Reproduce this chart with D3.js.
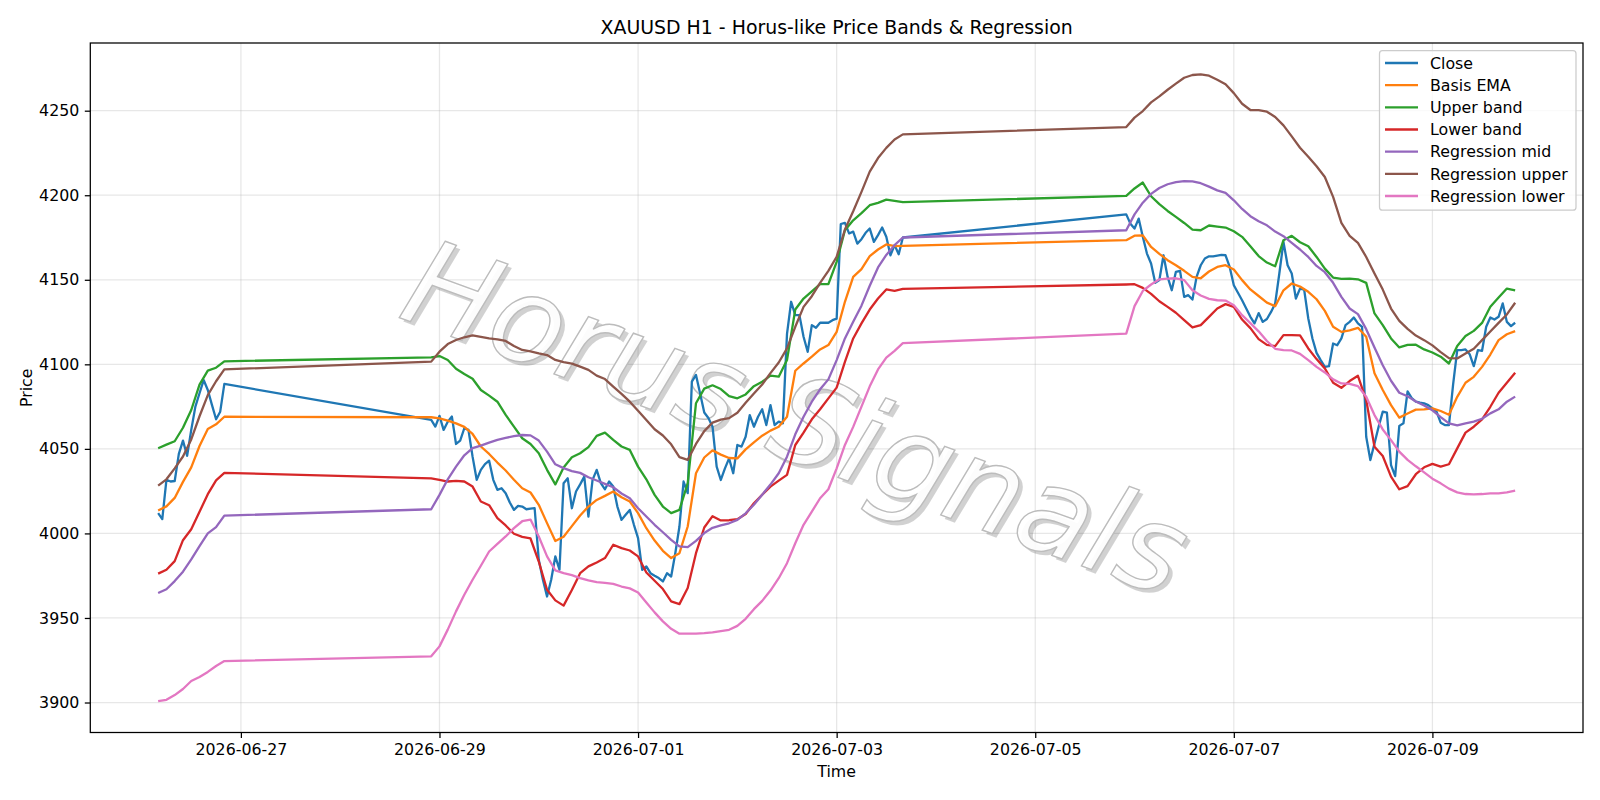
<!DOCTYPE html>
<html><head><meta charset="utf-8">
<script src="https://cdn.jsdelivr.net/npm/d3@7"></script>
<style>
body{margin:0;background:#fff;}
svg{display:block;}
text{font-family:"DejaVu Sans",sans-serif;}
</style>
</head><body>
<svg id="chart" width="1600" height="800"></svg>
<script>
// ---------------- DATA ----------------
// trading sessions (UTC, hourly bars)
const segmentStarts = ["2026-06-26T04:00:00Z", "2026-06-28T22:00:00Z", "2026-07-05T22:00:00Z"];
const segmentEnds   = ["2026-06-26T20:00:00Z", "2026-07-03T16:00:00Z", "2026-07-09T20:00:00Z"];

// hourly close
const close = [
4012,4008.5,4031.7,4030.7,4031,4047,4054.9,4045.9,4061.2,4075,4082.9,4090.7,4084.8,4076,4067.5,4072,4088.4,
4067.1,4063.2,4069.5,4061.2,4066.1,4069.1,4052.9,4054.9,4062.2,4061.2,
4045.4,4031.7,4037.6,4041,4043,4031.7,4025.8,4026.7,4023.8,4018.3,
4013.9,4016.3,4015.9,4014.3,4014.7,4014.9,3984.4,3972.6,3962.7,3972.6,
3986.4,3978.5,4029.7,4032.6,4014.9,4024.8,4029,4033.6,4010,4031.7,
4037.6,4029.7,4026.1,4030.7,4027.7,4015.9,4008,4011,4013.9,4005.1,
3997.2,3978.5,3980.5,3976.5,3975,3973.6,3971.6,3976.5,3974.5,3988.3,
4004.1,4030.7,4023.8,4089.8,4093.7,4082.8,4071.5,4068.3,4063.1,4039.5,
4031.6,4038.5,4044.4,4035.6,4052.3,4051.3,4057.2,4070,4063.1,4069,
4073.4,4064.1,4075.9,4064.1,4066.1,4065.1,4118,4137,4129.1,4129.1,
4116.3,4107.4,4123.2,4121.6,4124.6,4124.6,4124.6,4126.1,4127,4183,
4183.7,4177.4,4178.5,4171.4,4174,4177.8,4180.3,4172.4,4176.4,4180.9,
4175.4,4164.5,4170.5,4165.1,4175,
4188.7,4183.2,4180.3,4186.2,4175.4,4165.5,4159.6,4148.2,4149.8,4164.5,
4151.7,4143.8,4154.7,4155.3,4139.9,4140.9,4138.3,4151.7,4158.6,4162.6,
4163.9,4163.9,4164.3,4164.7,4164.5,4157.6,4146.8,4142.3,4137.9,4133,
4128.1,4124.2,4130.3,4125.1,4126.8,4131,4136,4153.7,4172.4,4158.6,
4153.7,4138.9,4144.8,4144.2,4127.1,4115.3,4106.8,4102.5,4098.5,4098.9,
4112.3,4111.3,4115.3,4123.2,4125.1,4127.7,4124.2,4122.2,4057.2,4043.4,
4053.2,4063.1,4072,4071.4,4040.4,4033.9,4063.6,4065.1,4084,4080,
4077.9,4077.3,4076.9,4075.9,4073.9,4072,4065.5,4064.1,4064.1,4088,
4108.4,4108.4,4108.8,4106,4098.9,4108.4,4108,4122.2,4127.7,4126.5,
4128.1,4136,4125.1,4122.6,4124.6
];

// smoothed series, read every 2 hours
const basisEma = [
4013.6,4016,4021,4030.5,4039.1,4051.7,4061.7,4064.5,4069,
4068.7,4068.1,4066.7,4065.1,4063,4058.8,4051.4,4047,4041.9,4037.2,
4031.7,4026.7,4024.2,4016.9,4006.1,3995.5,3998,4004.3,4010.6,4015.9,
4019.8,4022.2,4024.8,4021.4,4018.9,4012,4003.1,3995.8,3989.7,3985.4,
3988.3,4004.1,4035.6,4044.9,4049.1,4046.6,4044.6,4044.4,4049.7,4053.9,
4057.8,4060.8,4063.1,4069,4096.2,4100.5,4104.5,4108.8,4111.4,4119.2,
4137,4151.7,4156.3,4164,4167.9,4170.9,4169.9,4170.1,
4173.4,4176.1,4176.3,4169.4,4165.3,4161.6,4158.6,4155.3,4151.7,4150.9,
4154.9,4157.6,4158.6,4156.1,4149.8,4144.3,4140.4,4136.5,4134.4,4143.8,
4147.8,4146,4142.9,4138.5,4131.6,4122.2,4119.2,4120.1,4121.6,4116.3,
4094.7,4084.8,4075.9,4068.5,4070.9,4073.2,4073.4,4074,4072.4,4070.2,
4080.8,4089.1,4092.6,4098.5,4105.8,4114.3,4117.8,4119.6
];
const upperBand = [
4050.4,4052.5,4054.5,4062.5,4073,4088,4096.3,4098,4101.8,
4104.1,4104.9,4102.6,4097.4,4094.3,4091.5,4084.8,4081.5,4077.9,4070.1,
4063.2,4056.3,4052.9,4047.4,4037.6,4029,4039,4045,4047.4,4051,
4057.7,4059.6,4055.3,4051.4,4049.4,4039.5,4032,4022.8,4015.9,4012,
4013.9,4029.7,4077,4085.6,4087.6,4085.4,4081.2,4079.9,4082.2,4087.1,
4089.7,4093.3,4092.7,4102.5,4132.4,4138.9,4143.1,4147.4,4147.4,4160.6,
4179.3,4185.2,4189.4,4194.1,4195.5,4197.4,4196.7,4195.9,
4199.6,4204,4207.5,4199.4,4194.7,4190.7,4187.2,4183.6,4179.7,4179.3,
4182.1,4181.5,4180.9,4178.7,4175.4,4169.8,4164,4160.2,4158,4173.4,
4176,4172.2,4169.8,4163.5,4156.6,4151.3,4150.5,4150.7,4150.3,4148.2,
4130.1,4123.2,4115.3,4110,4111.5,4111.6,4108.8,4107,4104.5,4100.5,
4110.8,4116.7,4119.8,4124.5,4134,4139.5,4144.8,4143.8
];
const lowerBand = [
3976.2,3978.5,3983.6,3996,4002.5,4012.8,4023.2,4031.4,4035.8,
4032.6,4031.7,4030.7,4031.1,4030.7,4027.7,4018.9,4016.7,4009,4004.7,
3999.8,3998,3997,3983.4,3966.7,3960.4,3957.3,3966.5,3976.5,3980.5,
3982.8,3985.4,3993.3,3991.3,3989.9,3986.4,3976.9,3972,3967.1,3959.8,
3958.2,3967.7,3988.3,4003.5,4010.2,4007.7,4007.8,4008.4,4011.5,4017.8,
4022.9,4027.7,4031.2,4034.6,4052.3,4059.6,4067.5,4073.4,4079.9,4086.2,
4101.5,4115.3,4124.2,4132.4,4138.9,4144.3,4143.5,4144.6,
4147.2,4147.4,4145.2,4141.7,4137.3,4134,4130.5,4126.1,4121.8,4123.2,
4128.1,4133,4135.6,4134,4126.5,4121.4,4114.9,4111.5,4110.8,4117.3,
4117.3,4117.1,4109.4,4103.1,4097.6,4089.1,4086.1,4090.1,4093.2,4078.9,
4051.3,4045.8,4033.6,4026.1,4028,4035,4039.1,4041.1,4039.5,4040.9,
4050.3,4059.6,4063.1,4067.5,4074.9,4083.2,4089.1,4095
];
const regressionMid = [
3964.8,3967,3971.8,3977.4,3984.6,3992.5,4000,4003.7,4010.5,
4014.3,4022.8,4032,4039.5,4046.2,4050.4,4051.9,4053.7,4055.3,4056.5,
4057.5,4058.2,4058,4054.9,4048.4,4040.9,4038.6,4036.8,4035.8,4033.2,
4031.3,4029.3,4027.3,4023.6,4020.8,4014.9,4010,4005.1,4000.7,3996.2,
3992.3,3991.9,3995.6,4000.2,4003.3,4004.7,4006,4008,4011.9,4017,
4022.9,4028.9,4035.6,4045.4,4058.6,4069,4077.9,4085.2,4091.1,4102.5,
4115.3,4125.2,4134.7,4146.5,4157.3,4164.7,4170.5,4175,
4179.3,4188.7,4195.6,4200.8,4204.3,4206.5,4207.7,4208.4,4208.2,4207.1,
4205.1,4202.9,4201.4,4197,4191.9,4187.6,4184.6,4182.2,4178.5,4175.8,
4171.8,4167.9,4163.5,4158.2,4154.5,4148.2,4139.9,4133,4129.7,4120.8,
4110,4099.5,4090.3,4083.2,4081.1,4078,4075.7,4072.8,4068.8,4065.1,
4063.9,4065.1,4066.1,4067.8,4071,4073.4,4077.9,4080.9
];
const regressionUpper = [
4028.3,4032,4038.5,4045.5,4055.6,4069.3,4081.8,4090,4097,
4101.6,4107.5,4112,4114.4,4116,4117.1,4116.3,4115.4,4114.8,4113.8,
4110.8,4108.5,4107.7,4106.5,4105.5,4102.6,4101.3,4100.4,4098.6,4096.7,
4093.3,4091.3,4086.8,4082.5,4077.9,4072.6,4067.1,4061.6,4057.9,4052.7,
4045.1,4043.5,4052.9,4060.5,4065.5,4067.3,4068.2,4071.4,4077.3,4082.8,
4088.1,4094.8,4101.1,4109.4,4122.2,4134,4140.3,4148.2,4155.3,4163.6,
4179.7,4190.5,4202,4214,4222,4228,4233,4236,
4240.3,4245.9,4249.8,4254.9,4258.5,4262.4,4266,4269.5,4271.1,4271.5,
4270.7,4268.3,4265.6,4260.4,4254.1,4250.4,4250.3,4249.4,4246.3,4241.3,
4234.8,4228.1,4222.8,4217.1,4210.8,4199,4183.6,4175.9,4171.8,4163.5,
4153.7,4144.2,4133,4125.7,4121,4117,4114.3,4111.2,4107.2,4103.7,
4103.5,4106.4,4109.2,4114.3,4119.4,4124.5,4129.5,4136.4
];
const regressionLower = [
3900.8,3901.6,3904.4,3908,3912.7,3915.1,3918.1,3921.6,3924.5,
3927.3,3933.2,3943.1,3953.9,3963.7,3972.6,3980.9,3989.3,3993.8,3998.2,
4003.1,4007.2,4008.2,3998.2,3986.4,3978.1,3976.5,3975.3,3973.6,3972.2,
3971.2,3970.8,3970.2,3968.6,3967.5,3965.1,3959.2,3953.3,3948,3943.6,
3940.7,3940.7,3940.7,3941,3941.5,3942.2,3943,3945.3,3949.5,3955.2,
3960.1,3966.2,3973.5,3982.4,3994.2,4005.1,4012.9,4020.8,4026.1,4038.5,
4052.3,4063,4075,4087,4097,4104,4108,4112.5,
4118.2,4134.4,4143.4,4147.2,4150.3,4150.7,4150.9,4149.8,4143.8,4140.7,
4138.7,4137.9,4137.7,4135,4129.1,4124.4,4119.5,4113.8,4109.2,4108.4,
4108.2,4106.2,4102.5,4098.5,4095.2,4091.1,4088.7,4088.5,4087.1,4080.8,
4070,4061.5,4055.2,4048.4,4043.5,4039.7,4036.1,4032.4,4029.6,4026.5,
4024.3,4023.3,4023.1,4023.3,4023.7,4023.7,4024.3,4025.3
];

const xTickLabels = ["2026-06-27","2026-06-29","2026-07-01","2026-07-03","2026-07-05","2026-07-07","2026-07-09"];
const yTickValues = [3900,3950,4000,4050,4100,4150,4200,4250];
const seriesNames = ["Close","Basis EMA","Upper band","Lower band","Regression mid","Regression upper","Regression lower"];
const seriesColors = ["#1f77b4","#ff7f0e","#2ca02c","#d62728","#9467bd","#8c564b","#e377c2"];

const titleText = "XAUUSD H1 - Horus-like Price Bands & Regression";
const watermarkText = "Horus Signals";

// ---------------- TIME INDEX ----------------
function timeline(stepHours){
  const out = [];
  segmentStarts.forEach((s,i)=>{
    const a = new Date(s).getTime(), b = new Date(segmentEnds[i]).getTime();
    for(let t=a; t<=b; t+=stepHours*3600e3) out.push(new Date(t));
  });
  return out;
}
const hourlyTimes = timeline(1);
const twoHourTimes = timeline(2);

// ---------------- LAYOUT ----------------
const plot = {left:90.3, right:1583, top:43, bottom:732.5};
const svg = d3.select("#chart");
const FS = 15.8;

const [t0,t1] = d3.extent(hourlyTimes);
const tpad = (t1 - t0) * 0.05;
const x = d3.scaleUtc().domain([new Date(+t0 - tpad), new Date(+t1 + tpad)]).range([plot.left, plot.right]);

const allVals = [close,basisEma,upperBand,lowerBand,regressionMid,regressionUpper,regressionLower].flat();
const [v0,v1] = d3.extent(allVals);
const vpad = (v1 - v0) * 0.05;
const y = d3.scaleLinear().domain([v0 - vpad, v1 + vpad]).range([plot.bottom, plot.top]);

const xTickDates = xTickLabels.map(s => new Date(s + "T00:00:00Z"));

// background
svg.append("rect").attr("width",1600).attr("height",800).attr("fill","#fff");

// grid
const grid = svg.append("g");
grid.selectAll(".gx").data(xTickDates).enter().append("line")
  .attr("x1",d=>x(d)).attr("x2",d=>x(d)).attr("y1",plot.top).attr("y2",plot.bottom)
  .attr("stroke","#b0b0b0").attr("stroke-opacity",0.3).attr("stroke-width",1.26);
grid.selectAll(".gy").data(yTickValues).enter().append("line")
  .attr("x1",plot.left).attr("x2",plot.right).attr("y1",d=>y(d)).attr("y2",d=>y(d))
  .attr("stroke","#b0b0b0").attr("stroke-opacity",0.3).attr("stroke-width",1.26);

// watermark: light glyphs with a soft gray drop shadow
svg.append("clipPath").attr("id","pc").append("rect")
  .attr("x",plot.left).attr("y",plot.top).attr("width",plot.right-plot.left).attr("height",plot.bottom-plot.top);
const wm = svg.append("g");
const wmT = "translate(796,418) rotate(20)";
wm.append("text").attr("transform","translate(4,4) " + wmT)
  .attr("text-anchor","middle").attr("dominant-baseline","central")
  .style("font-size","120px").style("font-style","italic")
  .attr("fill","#000").attr("fill-opacity",0.18)
  .text(watermarkText);
wm.append("text").attr("transform",wmT)
  .attr("text-anchor","middle").attr("dominant-baseline","central")
  .style("font-size","120px").style("font-style","italic")
  .attr("fill","#fff").attr("fill-opacity",0.92)
  .attr("stroke","#bcbcbc").attr("stroke-width",1.4)
  .text(watermarkText);

// lines
const seriesData = [
  {times: hourlyTimes, values: close},
  {times: twoHourTimes, values: basisEma},
  {times: twoHourTimes, values: upperBand},
  {times: twoHourTimes, values: lowerBand},
  {times: twoHourTimes, values: regressionMid},
  {times: twoHourTimes, values: regressionUpper},
  {times: twoHourTimes, values: regressionLower}
];
const lineGen = d3.line().x(d=>x(d[0])).y(d=>y(d[1]));
const lines = svg.append("g").attr("clip-path","url(#pc)");
seriesData.forEach((s,i)=>{
  const pts = s.times.map((t,j)=>[t, s.values[j]]);
  lines.append("path").attr("d", lineGen(pts))
    .attr("fill","none").attr("stroke",seriesColors[i]).attr("stroke-width",2.3)
    .attr("stroke-linejoin","round").attr("stroke-linecap","butt");
});

// frame
svg.append("rect").attr("x",plot.left).attr("y",plot.top)
  .attr("width",plot.right-plot.left).attr("height",plot.bottom-plot.top)
  .attr("fill","none").attr("stroke","#000").attr("stroke-width",1.26);

// axes
const xAxis = d3.axisBottom(x).tickValues(xTickDates).tickFormat((d,i)=>xTickLabels[i])
  .tickSize(5.5).tickPadding(5.5).tickSizeOuter(0);
const gx = svg.append("g").attr("transform",`translate(0,${plot.bottom})`).call(xAxis);
gx.select(".domain").remove();
gx.selectAll("line").attr("stroke","#000").attr("stroke-width",1.26);
gx.selectAll("text").attr("fill","#000").style("font-size",FS+"px").style("font-family","DejaVu Sans");

const yAxis = d3.axisLeft(y).tickValues(yTickValues).tickFormat(d3.format("d"))
  .tickSize(5.5).tickPadding(5.5).tickSizeOuter(0);
const gy = svg.append("g").attr("transform",`translate(${plot.left},0)`).call(yAxis);
gy.select(".domain").remove();
gy.selectAll("line").attr("stroke","#000").attr("stroke-width",1.26);
gy.selectAll("text").attr("fill","#000").style("font-size",FS+"px").style("font-family","DejaVu Sans");

// labels
const cx = (plot.left+plot.right)/2, cy = (plot.top+plot.bottom)/2;
svg.append("text").attr("x",cx).attr("y",33.5).attr("text-anchor","middle")
  .style("font-size","18.9px").text(titleText);
svg.append("text").attr("x",cx).attr("y",777).attr("text-anchor","middle")
  .style("font-size",FS+"px").text("Time");
svg.append("text").attr("transform",`translate(32,${cy}) rotate(-90)`).attr("text-anchor","middle")
  .style("font-size",FS+"px").text("Price");

// legend
const lg = svg.append("g");
const lx = 1379.5, ly = 50.7, lw = 196.5, lh = 159.5;
lg.append("rect").attr("x",lx).attr("y",ly).attr("width",lw).attr("height",lh).attr("rx",3)
  .attr("fill","#fff").attr("fill-opacity",0.8).attr("stroke","#cccccc").attr("stroke-width",1.26);
seriesNames.forEach((n,i)=>{
  const yy = 63 + i*22.17;
  lg.append("line").attr("x1",1385).attr("x2",1418).attr("y1",yy).attr("y2",yy)
    .attr("stroke",seriesColors[i]).attr("stroke-width",2.3);
  lg.append("text").attr("x",1430).attr("y",yy).attr("dy","0.36em")
    .style("font-size",FS+"px").text(n);
});
</script>
</body></html>
